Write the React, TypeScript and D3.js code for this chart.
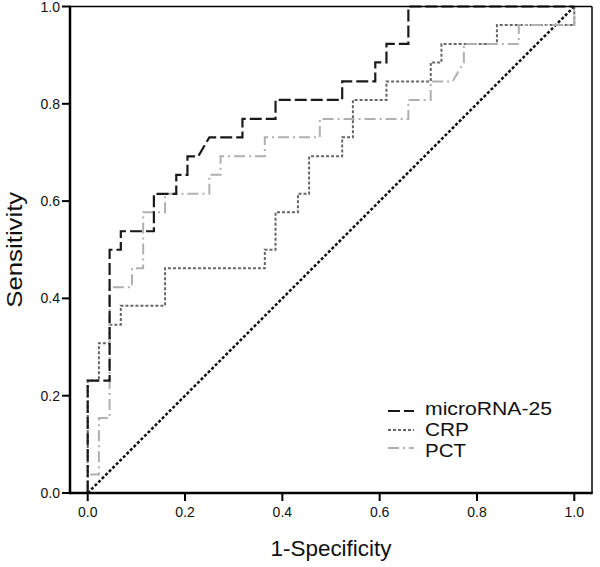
import React from "react";
import * as d3 from "d3";

const X_TICKS = [0, 0.2, 0.4, 0.6, 0.8, 1.0];
const Y_TICKS = [0, 0.2, 0.4, 0.6, 0.8, 1.0];

const MIR_FPR = [0, 0, .045, .045, .068, .068, .136, .136, .182, .182, .205, .205, .227, .25, .318, .318, .386, .386, .523, .523, .591, .591, .614, .614, .659, .659, 1];
const MIR_TPR = [0, .231, .231, .5, .5, .538, .538, .615, .615, .654, .654, .692, .692, .731, .731, .769, .769, .808, .808, .846, .846, .885, .885, .923, .923, 1, 1];

const CRP_FPR = [0, 0, .023, .023, .045, .045, .068, .068, .159, .159, .364, .364, .386, .386, .432, .432, .455, .455, .523, .523, .545, .545, .614, .614, .705, .705, .727, .727, .841, .841, 1, 1];
const CRP_TPR = [0, .231, .231, .308, .308, .346, .346, .385, .385, .462, .462, .5, .5, .577, .577, .615, .615, .692, .692, .731, .731, .808, .808, .846, .846, .885, .885, .923, .923, .962, .962, 1];

const PCT_FPR = [0, 0, .023, .023, .045, .045, .091, .091, .114, .114, .159, .159, .25, .25, .273, .273, .364, .364, .477, .477, .659, .659, .705, .705, .75, .773, .773, .886, .886, 1, 1];
const PCT_TPR = [0, .038, .038, .154, .154, .423, .423, .462, .462, .577, .577, .615, .615, .654, .654, .692, .692, .731, .731, .769, .769, .808, .808, .846, .846, .885, .923, .923, .962, .962, 1];

const REF_X = [0, 1];
const REF_Y = [0, 1];

const SERIES_NAMES = ["microRNA-25", "CRP", "PCT"];

const FONT = "'Liberation Sans', Arial, Helvetica, sans-serif";

export default function App() {
  const W = 600, H = 567;
  const left = 70, right = 592, top = 6.5, bottom = 493;
  const x = d3.scaleLinear().domain([-0.0364, 1.0364]).range([left, right]);
  const y = d3.scaleLinear().domain([0, 1]).range([bottom, top]);

  const line = (xs: number[], ys: number[]) =>
    d3.line<number>().x((_, i) => x(xs[i])).y((_, i) => y(ys[i]))(xs) || "";

  const styles = [
    { stroke: "#1a1a1a", dash: "12 4", width: 2.2 },
    { stroke: "#666666", dash: "3 2", width: 2 },
    { stroke: "#b0b0b0", dash: "11 4 2 4", width: 2 },
  ];
  const legendWidths = [127, 44, 41];
  const legendLineY = [411, 430, 448];

  return (
    <svg width={W} height={H} style={{ position: "absolute", left: 0, top: 0, background: "#fff" }} fontFamily={FONT}>
      <rect x={0} y={0} width={W} height={H} fill="#fff" />
      <path d={line(REF_X, REF_Y)} fill="none" stroke="#111" strokeWidth={2.5} strokeDasharray="3 2" />
      <path d={line(CRP_FPR, CRP_TPR)} fill="none" stroke={styles[1].stroke} strokeWidth={styles[1].width} strokeDasharray={styles[1].dash} />
      <path d={line(PCT_FPR, PCT_TPR)} fill="none" stroke={styles[2].stroke} strokeWidth={styles[2].width} strokeDasharray={styles[2].dash} />
      <path d={line(MIR_FPR, MIR_TPR)} fill="none" stroke={styles[0].stroke} strokeWidth={styles[0].width} strokeDasharray={styles[0].dash} />

      <line x1={left} x2={right} y1={top} y2={top} stroke="#000" strokeWidth={1.5} />
      <line x1={right} x2={right} y1={top} y2={bottom} stroke="#000" strokeWidth={1.5} />
      <line x1={left} x2={left} y1={top - 0.75} y2={bottom + 1.25} stroke="#000" strokeWidth={2.5} />
      <line x1={left} x2={right + 0.75} y1={bottom} y2={bottom} stroke="#000" strokeWidth={2.5} />

      {Y_TICKS.map((t) => (
        <g key={"y" + t}>
          <line x1={left - 8} x2={left} y1={y(t)} y2={y(t)} stroke="#000" strokeWidth={2} />
          <text x={left - 10} y={y(t)} dy="0.36em" textAnchor="end" fontSize={14} fill="#111">
            {d3.format(".1f")(t)}
          </text>
        </g>
      ))}
      {X_TICKS.map((t) => (
        <g key={"x" + t}>
          <line x1={x(t)} x2={x(t)} y1={bottom} y2={bottom + 8} stroke="#000" strokeWidth={2} />
          <text x={x(t)} y={bottom + 24} textAnchor="middle" fontSize={14} fill="#111">
            {d3.format(".1f")(t)}
          </text>
        </g>
      ))}

      <text transform={`translate(22,${(top + bottom) / 2}) rotate(-90)`} textAnchor="middle" fontSize={22}
        textLength={116} lengthAdjust="spacingAndGlyphs" fill="#111">
        Sensitivity
      </text>
      <text x={(left + right) / 2} y={556} textAnchor="middle" fontSize={22}
        textLength={121} lengthAdjust="spacingAndGlyphs" fill="#111">
        1-Specificity
      </text>

      {SERIES_NAMES.map((name, i) => (
        <g key={name}>
          <line x1={388} x2={414} y1={legendLineY[i]} y2={legendLineY[i]} stroke={styles[i].stroke} strokeWidth={2} strokeDasharray={styles[i].dash} />
          <text x={425} y={415 + i * 21} fontSize={18} textLength={legendWidths[i]} lengthAdjust="spacingAndGlyphs" fill="#111">
            {name}
          </text>
        </g>
      ))}
    </svg>
  );
}
